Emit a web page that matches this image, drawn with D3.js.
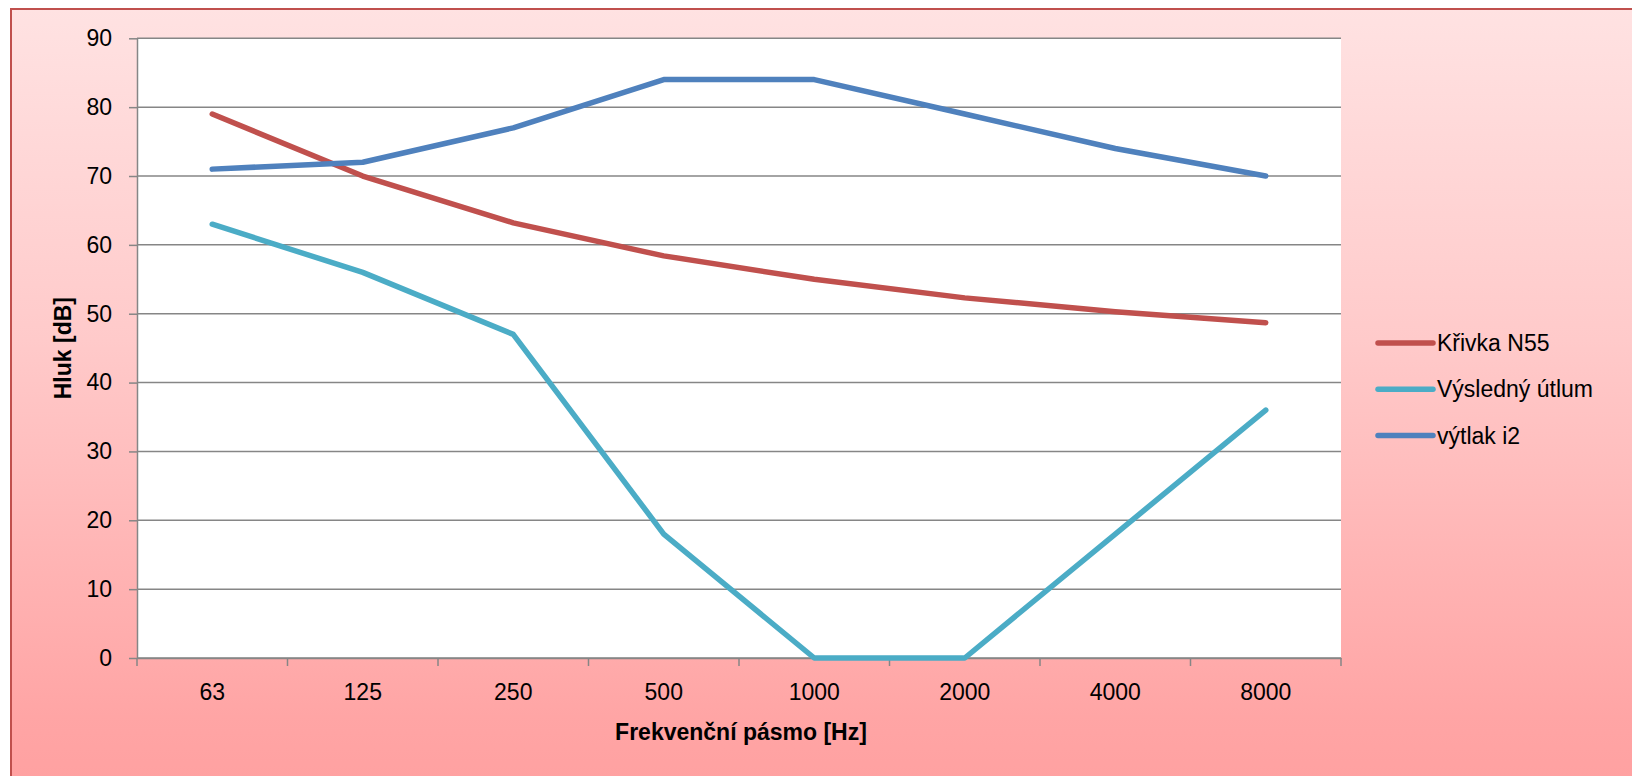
<!DOCTYPE html>
<html>
<head>
<meta charset="utf-8">
<script src="https://cdn.jsdelivr.net/npm/d3@7"></script>
<style>
  body { margin: 0; background: #ffffff; }
  text { font-family: "Liberation Sans", Arial, sans-serif; fill: #000000; }
</style>
</head>
<body>
<div id="chart"></div>
<script>
// data
var categories = ["63", "125", "250", "500", "1000", "2000", "4000", "8000"];
var seriesNames = ["Křivka N55", "Výsledný útlum", "výtlak i2"];
var krivkaN55 = [79, 70, 63.2, 58.4, 55, 52.3, 50.3, 48.7];
var vysledneUtlum = [63, 56, 47, 18, 0, 0, 18, 36];
var vytlakI2 = [71, 72, 77, 84, 84, 79, 74, 70];
var yTicks = [0, 10, 20, 30, 40, 50, 60, 70, 80, 90];
var seriesColors = ["#C0504D", "#4BACC6", "#4F81BD"];

var width = 1632, height = 776;
var plot = { left: 137, right: 1341, top: 38.3, bottom: 658 };

var svg = d3.select("#chart")
  .append("svg")
  .attr("width", width)
  .attr("height", height);

// background gradient
var grad = svg.append("defs")
  .append("linearGradient")
  .attr("id", "bg")
  .attr("x1", 0).attr("y1", 0)
  .attr("x2", 0).attr("y2", 1);
grad.append("stop").attr("offset", "0%").attr("stop-color", "#FFE2E2");
grad.append("stop").attr("offset", "42%").attr("stop-color", "#FFCACA");
grad.append("stop").attr("offset", "90%").attr("stop-color", "#FFA5A5");
grad.append("stop").attr("offset", "100%").attr("stop-color", "#FFA0A0");

svg.append("rect")
  .attr("x", 11)
  .attr("y", 9)
  .attr("width", width + 10)
  .attr("height", height + 10)
  .attr("fill", "url(#bg)")
  .attr("stroke", "#C0504D")
  .attr("stroke-width", 2);

// plot area
svg.append("rect")
  .attr("x", plot.left)
  .attr("y", plot.top)
  .attr("width", plot.right - plot.left)
  .attr("height", plot.bottom - plot.top)
  .attr("fill", "#ffffff");

var x = d3.scaleBand()
  .domain(categories)
  .range([plot.left, plot.right])
  .paddingInner(0)
  .paddingOuter(0);

var y = d3.scaleLinear()
  .domain([0, 90])
  .range([plot.bottom, plot.top]);

// gridlines
svg.append("g")
  .selectAll("line")
  .data(yTicks)
  .enter()
  .append("line")
  .attr("x1", plot.left)
  .attr("x2", plot.right)
  .attr("y1", function(d) { return y(d); })
  .attr("y2", function(d) { return y(d); })
  .attr("stroke", "#868686")
  .attr("stroke-width", 1.5);

// Y axis
var yAxis = svg.append("g")
  .attr("transform", "translate(" + plot.left + ",0)")
  .call(d3.axisLeft(y).tickValues(yTicks).tickSize(8).tickPadding(17).tickSizeOuter(0));
yAxis.selectAll("line").attr("stroke", "#868686").attr("stroke-width", 1.5);
yAxis.select(".domain").attr("stroke", "#868686").attr("stroke-width", 1.5);
yAxis.selectAll("text")
  .style("font-size", "23px")
  .style("font-family", "'Liberation Sans', Arial, sans-serif");

// X axis (labels centred in bands, ticks on band edges)
var xAxis = svg.append("g")
  .attr("transform", "translate(0," + plot.bottom + ")")
  .call(d3.axisBottom(x).tickSize(0).tickPadding(26).tickSizeOuter(0));
xAxis.select(".domain").attr("stroke", "#868686").attr("stroke-width", 1.5);
xAxis.selectAll("text")
  .style("font-size", "23px")
  .style("font-family", "'Liberation Sans', Arial, sans-serif");

var edges = categories.map(function(d) { return x(d); }).concat([x.range()[1]]);
xAxis.selectAll(".edge")
  .data(edges)
  .enter()
  .append("line")
  .attr("class", "edge")
  .attr("x1", function(d) { return d; })
  .attr("x2", function(d) { return d; })
  .attr("y1", 0)
  .attr("y2", 8)
  .attr("stroke", "#868686")
  .attr("stroke-width", 1.5);

// axis titles
svg.append("text")
  .attr("x", (plot.left + plot.right) / 2 + 2)
  .attr("y", 740)
  .attr("text-anchor", "middle")
  .style("font-size", "23px")
  .style("font-weight", "bold")
  .text("Frekvenční pásmo [Hz]");

svg.append("text")
  .attr("transform", "translate(71," + ((plot.top + plot.bottom) / 2) + ") rotate(-90)")
  .attr("text-anchor", "middle")
  .style("font-size", "23px")
  .style("font-weight", "bold")
  .text("Hluk [dB]");

// lines
var allSeries = [krivkaN55, vysledneUtlum, vytlakI2];
var line = d3.line()
  .x(function(d, i) { return x(categories[i]) + x.bandwidth() / 2; })
  .y(function(d) { return y(d); });

svg.append("g")
  .selectAll("path")
  .data(allSeries)
  .enter()
  .append("path")
  .attr("d", line)
  .attr("fill", "none")
  .attr("stroke", function(d, i) { return seriesColors[i]; })
  .attr("stroke-width", 5.5)
  .attr("stroke-linecap", "round")
  .attr("stroke-linejoin", "round");

// legend
var legend = svg.append("g")
  .selectAll("g")
  .data(seriesNames)
  .enter()
  .append("g")
  .attr("transform", function(d, i) { return "translate(1378," + (343 + i * 46.3) + ")"; });

legend.append("line")
  .attr("x1", 0)
  .attr("x2", 55)
  .attr("y1", 0)
  .attr("y2", 0)
  .attr("stroke", function(d, i) { return seriesColors[i]; })
  .attr("stroke-width", 5.5)
  .attr("stroke-linecap", "round");

legend.append("text")
  .attr("x", 59)
  .attr("dy", "0.35em")
  .style("font-size", "23px")
  .text(function(d) { return d; });
</script>
</body>
</html>
